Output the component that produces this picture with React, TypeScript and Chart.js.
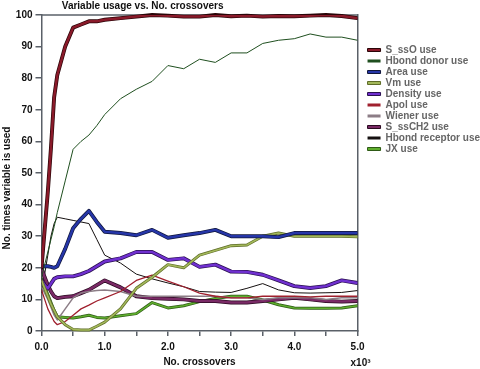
import React, { useEffect, useRef } from 'react';
import { Chart, registerables } from 'chart.js';

Chart.register(...registerables);

// x values in thousands of crossovers
const crossovers = [0, 0.05, 0.1, 0.15, 0.2, 0.25, 0.375, 0.5, 0.625, 0.75, 0.875, 1.0, 1.25, 1.5, 1.75, 2.0, 2.25, 2.5, 2.75, 3.0, 3.25, 3.5, 3.75, 4.0, 4.25, 4.5, 4.75, 5.0];

const sSsOUse = [20, 32, 44, 58, 74, 81, 90, 96, 97, 98, 98, 98.5, 99, 99.5, 100, 99.8, 99.5, 99.5, 100, 99.6, 99.8, 99.5, 99.7, 99.6, 99.8, 100, 99.7, 99];
const hbondDonorUse = [17, 21, 25, 29, 33, 37.5, 47.5, 57.5, 60, 62, 65, 68.5, 73.5, 76.5, 79, 84, 83, 86, 85, 88, 88, 91, 92, 92.5, 94, 93, 93, 92];
const areaUse = [20.5, 20.5, 20.5, 20.3, 20, 20.5, 26, 32.5, 35.5, 38, 34.5, 31.4, 31, 30.3, 32, 29.5, 30.3, 31, 32, 30, 30, 30, 29.7, 31, 31, 31, 31, 31];
const vmUse = [16, 13.5, 11, 8.5, 6.5, 4.5, 2, 0.5, 0.3, 0.3, 1.5, 2.8, 7, 13.5, 17, 21, 20, 24, 25.5, 27, 27.2, 30, 31, 30, 30, 30, 30, 29.8];
const densityUse = [16, 14.5, 13.5, 15, 16.5, 17, 17.3, 17.3, 18, 19, 20.5, 22, 23, 25, 25, 22.5, 23, 20.3, 21, 18.8, 18.7, 17.8, 16, 14.2, 13.6, 14.2, 16, 15.2];
const apolUse = [13, 10, 7, 5, 3, 2, 3, 5, 7, 8.2, 9.5, 10.5, 12.5, 16, 17.7, 15.8, 14, 12, 11, 10.5, 10.5, 11, 11, 11, 10.8, 11, 11, 11];
const wienerUse = [14, 12, 10, 7.5, 5, 3.5, 7, 10.5, 12, 12.5, 12.8, 13, 12.5, 11, 11, 11, 11, 11, 11, 10.5, 10.5, 10, 10.5, 10.5, 10.5, 10, 10.5, 10.5];
const sSsCH2Use = [20, 17, 14.5, 12.5, 11, 10.4, 10.8, 11, 12, 13, 14.5, 16, 13.8, 11, 10.4, 10.2, 10, 9.5, 9.5, 9, 9, 9.5, 10, 10.5, 10, 9.5, 9.3, 9.5];
const hbondReceptorUse = [12, 18, 24, 30, 34, 36, 35.5, 35, 34.5, 34, 29, 24, 21.5, 18, 16.5, 15.2, 14, 12.5, 12.3, 12.2, 13.5, 15, 13, 12.1, 12, 12.1, 12.2, 12.8];
const jxUse = [16.5, 14, 11.5, 9, 6.5, 4.5, 4.3, 4.1, 4.5, 5, 4.3, 4.1, 4.8, 5.5, 9, 7.3, 8, 9.3, 10.3, 11, 11, 9.8, 8.3, 7.3, 7.2, 7.2, 7.3, 8];

const seriesLabels = ['S_ssO use', 'Hbond donor use', 'Area use', 'Vm use', 'Density use', 'Apol use', 'Wiener use', 'S_ssCH2 use', 'Hbond receptor use', 'JX use'];
const seriesValues = [sSsOUse, hbondDonorUse, areaUse, vmUse, densityUse, apolUse, wienerUse, sSsCH2Use, hbondReceptorUse, jxUse];

const seriesStyles = [
  { color: '#8a1a2a', outline: '#2a0508', width: 2.5 },
  { color: '#1f4f1f', outline: null, width: 1 },
  { color: '#2636a8', outline: '#10163a', width: 2.5 },
  { color: '#a3b85a', outline: '#5e6c28', width: 1.6 },
  { color: '#7030d0', outline: '#2a1050', width: 2.5 },
  { color: '#a0202e', outline: null, width: 1.3 },
  { color: '#8c7d86', outline: null, width: 1.5 },
  { color: '#7a2a66', outline: '#2a0a20', width: 2.5 },
  { color: '#151010', outline: null, width: 1 },
  { color: '#5fae2e', outline: '#2e5a16', width: 1.6 },
];

const FONT = "'Liberation Sans', Arial, sans-serif";
const AXIS = '#5a6068';
const TEXT = '#111111';

const outlinePlugin = {
  id: 'outline',
  beforeDatasetDraw(chart: any, args: any) {
    const ds = chart.data.datasets[args.index];
    if (!ds.outlineColor) return;
    const pts = args.meta.data;
    const ctx = chart.ctx;
    const a = chart.chartArea;
    ctx.save();
    ctx.beginPath();
    ctx.rect(a.left, a.top - 3, a.right - a.left, a.bottom - a.top + 6);
    ctx.clip();
    ctx.beginPath();
    pts.forEach((p: any, i: number) => (i ? ctx.lineTo(p.x, p.y) : ctx.moveTo(p.x, p.y)));
    ctx.strokeStyle = ds.outlineColor;
    ctx.lineWidth = ds.borderWidth + 1.4;
    ctx.lineJoin = 'round';
    ctx.lineCap = 'round';
    ctx.stroke();
    ctx.restore();
  },
};

const decorPlugin = {
  id: 'decor',
  beforeDatasetsDraw(chart: any) {
    const { ctx, chartArea: a } = chart;
    ctx.save();
    ctx.strokeStyle = AXIS;
    ctx.lineWidth = 1.5;
    ctx.beginPath();
    ctx.moveTo(a.left, a.top);
    ctx.lineTo(a.right, a.top);
    ctx.stroke();
    ctx.restore();
  },
  afterDraw(chart: any) {
    const { ctx, chartArea: a } = chart;
    ctx.save();
    ctx.fillStyle = TEXT;
    ctx.font = `bold 10px ${FONT}`;
    ctx.textAlign = 'center';
    ctx.textBaseline = 'middle';
    ctx.fillText('Variable usage vs. No. crossovers', a.left + (a.right - a.left) * 0.32, 6);
    ctx.fillText('x10³', a.right + 3, 363);
    ctx.translate(7, 188);
    ctx.rotate(-Math.PI / 2);
    ctx.fillText('No. times variable is used', 0, 0);
    ctx.restore();
  },
};

export default function App() {
  const ref = useRef<HTMLCanvasElement>(null);
  useEffect(() => {
    document.body.style.margin = '0';
    Chart.defaults.font.family = FONT;
    const datasets = seriesLabels.map((label, i) => ({
      label,
      data: crossovers.map((x, j) => ({ x, y: seriesValues[i][j] })),
      borderColor: seriesStyles[i].color,
      backgroundColor: seriesStyles[i].color,
      borderWidth: seriesStyles[i].width,
      outlineColor: seriesStyles[i].outline,
      pointRadius: 0,
      tension: 0,
      borderJoinStyle: 'round',
    }));
    const chart = new Chart(ref.current!, {
      type: 'line',
      data: { datasets } as any,
      plugins: [outlinePlugin, decorPlugin],
      options: {
        animation: false,
        responsive: true,
        maintainAspectRatio: false,
        layout: { padding: { top: 15, right: -10, bottom: 0, left: 0 } },
        scales: {
          x: {
            type: 'linear',
            min: 0,
            max: 5,
            ticks: {
              stepSize: 0.5,
              autoSkip: false,
              maxRotation: 0,
              padding: 5,
              color: TEXT,
              font: { size: 10, weight: 'bold' },
              callback: (v: any) => (Number.isInteger(v) ? Number(v).toFixed(1) : ''),
            },
            grid: { drawOnChartArea: false, drawTicks: true, tickLength: 5, color: AXIS, lineWidth: 1.5 },
            border: { display: true, color: AXIS, width: 1.5 },
            title: { display: true, text: 'No. crossovers', color: TEXT, font: { size: 10, weight: 'bold' }, padding: { top: 0, bottom: 1 } },
            afterFit: (s: any) => { s.height = 38; },
          },
          y: {
            min: 0,
            max: 100,
            ticks: { stepSize: 10, padding: 3, color: TEXT, font: { size: 10, weight: 'bold' } },
            grid: { drawOnChartArea: false, drawTicks: true, tickLength: 6, color: AXIS, lineWidth: 1.5 },
            border: { display: true, color: AXIS, width: 1.5 },
            afterFit: (s: any) => { s.width = 41.5; },
          },
          yR: {
            position: 'right',
            min: 0,
            max: 100,
            ticks: { display: false },
            grid: { display: false },
            border: { display: true, color: AXIS, width: 1.5 },
            afterFit: (s: any) => { s.width = 9; },
          },
        },
        plugins: {
          tooltip: { enabled: false },
          legend: {
            position: 'right',
            align: 'start',
            maxWidth: 200,
            title: { display: true, text: ' ', font: { size: 10 }, padding: { top: 17, bottom: 0 } },
            labels: {
              boxWidth: 13,
              boxHeight: 3,
              padding: 1,
              color: TEXT,
              font: { size: 10, weight: 'bold' },
              generateLabels: (c: any) =>
                c.data.datasets.map((ds: any, i: number) => ({
                  text: ds.label,
                  fillStyle: ds.borderColor,
                  strokeStyle: ds.outlineColor || ds.borderColor,
                  lineWidth: ds.outlineColor ? 1 : 0,
                  hidden: false,
                  datasetIndex: i,
                })),
            },
          },
        },
      } as any,
    });
    return () => chart.destroy();
  }, []);
  return (
    <div style={{ width: 480, height: 369, position: 'relative' }}>
      <canvas ref={ref} />
    </div>
  );
}
